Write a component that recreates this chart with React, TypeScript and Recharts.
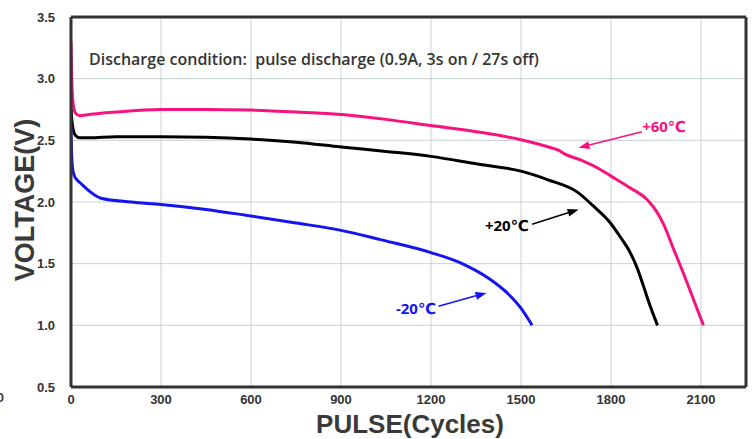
import React from "react";
import {
  LineChart,
  Line,
  XAxis,
  YAxis,
  CartesianGrid,
  ReferenceLine,
  ReferenceDot,
  Customized,
} from "recharts";

document.body.style.margin = "0";

// +60℃ curve
const hotCycles = [0, 3, 8, 15, 30, 60, 150, 300, 450, 600, 750, 900, 1050, 1200, 1350, 1500, 1600, 1625, 1645, 1700, 1760, 1800, 1860, 1920, 1950, 1975, 2010, 2040, 2075, 2108];
const hotVolts = [3.3, 2.95, 2.78, 2.72, 2.7, 2.71, 2.73, 2.75, 2.75, 2.745, 2.73, 2.71, 2.67, 2.62, 2.57, 2.505, 2.44, 2.42, 2.39, 2.34, 2.27, 2.21, 2.12, 2.02, 1.93, 1.82, 1.61, 1.43, 1.21, 1.0];

// +20℃ curve
const roomCycles = [0, 3, 8, 15, 30, 60, 150, 300, 450, 600, 750, 900, 1050, 1200, 1350, 1500, 1590, 1688, 1740, 1798, 1830, 1864, 1888, 1908, 1930, 1955];
const roomVolts = [2.76, 2.66, 2.58, 2.54, 2.52, 2.52, 2.53, 2.53, 2.525, 2.51, 2.485, 2.446, 2.41, 2.37, 2.31, 2.25, 2.18, 2.08, 1.97, 1.83, 1.72, 1.59, 1.46, 1.32, 1.16, 1.0];

// -20℃ curve
const coldCycles = [0, 2, 5, 10, 20, 33, 60, 100, 200, 300, 450, 600, 750, 900, 1031, 1200, 1309, 1398, 1453, 1498, 1537];
const coldVolts = [2.59, 2.4, 2.28, 2.22, 2.18, 2.15, 2.09, 2.03, 2.0, 1.98, 1.94, 1.886, 1.83, 1.77, 1.695, 1.59, 1.495, 1.372, 1.265, 1.145, 1.0];

const xTicks = [0, 300, 600, 900, 1200, 1500, 1800, 2100];
const yTicks = [0.5, 1.0, 1.5, 2.0, 2.5, 3.0, 3.5];

const PINK = "#f7137f";
const BLACK = "#000000";
const BLUE = "#1414f0";
const FRAME = "#333333";

const toRows = (xs: number[], ys: number[]) => xs.map((x, i) => ({ x, v: ys[i] }));

const hotData = toRows(hotCycles, hotVolts);
const roomData = toRows(roomCycles, roomVolts);
const coldData = toRows(coldCycles, coldVolts);

const arrowShape = (color: string) => (p: any) => {
  const { x1, y1, x2, y2 } = p;
  const ang = Math.atan2(y2 - y1, x2 - x1);
  const len = 11;
  const half = 4;
  const bx = x2 - len * Math.cos(ang);
  const by = y2 - len * Math.sin(ang);
  const nx = -Math.sin(ang) * half;
  const ny = Math.cos(ang) * half;
  return (
    <g>
      <line x1={x1} y1={y1} x2={bx} y2={by} stroke={color} strokeWidth={1.5} />
      <polygon points={`${x2},${y2} ${bx + nx},${by + ny} ${bx - nx},${by - ny}`} fill={color} />
    </g>
  );
};

const labelShape = (text: string, color: string) => (p: any) => (
  <text
    x={p.cx}
    y={p.cy}
    textAnchor="middle"
    dominantBaseline="central"
    fill={color}
    fontFamily="'Open Sans', 'DejaVu Sans', sans-serif"
    fontWeight={700}
    fontSize={15}
  >
    {text}
  </text>
);

const conditionShape = (p: any) => (
  <text
    x={p.cx}
    y={p.cy}
    fill="#333"
    fontFamily="'Open Sans', sans-serif"
    fontWeight={600}
    fontSize={16}
    style={{ whiteSpace: "pre" }}
  >
    {"Discharge condition:  pulse discharge (0.9A, 3s on / 27s off)"}
  </text>
);

const AxisTitles = () => (
  <g fill="#3a3a3a" fontFamily="'Liberation Sans', Arial, sans-serif" fontWeight={700}>
    <text x={34} y={200} fontSize={27} textAnchor="middle" transform="rotate(-90, 34, 200)">
      VOLTAGE(V)
    </text>
    <text x={410} y={433} fontSize={26} textAnchor="middle">
      PULSE(Cycles)
    </text>
    <text x={4} y={402} fontSize={13} textAnchor="end">
      0
    </text>
  </g>
);

const tickStyle = {
  fill: "#333",
  fontSize: 13,
  fontWeight: 700,
  fontFamily: "'Liberation Sans', Arial, sans-serif",
};

export default function App() {
  return (
    <div style={{ width: 753, height: 439, background: "#fff" }}>
      <LineChart width={753} height={439} margin={{ top: 17, right: 7, bottom: 0, left: 0 }}>
        <CartesianGrid stroke="#c8d2d2" strokeWidth={1} />
        <XAxis
          type="number"
          dataKey="x"
          domain={[0, 2250]}
          ticks={xTicks}
          height={52}
          tickSize={0}
          tickMargin={8}
          tick={tickStyle}
          axisLine={{ stroke: FRAME, strokeWidth: 3 }}
          allowDataOverflow
        />
        <YAxis
          type="number"
          domain={[0.5, 3.5]}
          ticks={yTicks}
          width={71}
          tickSize={0}
          tickMargin={16}
          tick={tickStyle}
          tickFormatter={(v: number) => v.toFixed(1)}
          axisLine={{ stroke: FRAME, strokeWidth: 3 }}
          allowDataOverflow
        />
        <ReferenceLine y={3.5} stroke={FRAME} strokeWidth={3} />
        <ReferenceLine x={2250} stroke={FRAME} strokeWidth={3} />

        <Line data={hotData} dataKey="v" type="monotone" stroke={PINK} strokeWidth={3} dot={false} isAnimationActive={false} />
        <Line data={roomData} dataKey="v" type="monotone" stroke={BLACK} strokeWidth={3} dot={false} isAnimationActive={false} />
        <Line data={coldData} dataKey="v" type="monotone" stroke={BLUE} strokeWidth={3} dot={false} isAnimationActive={false} />

        <ReferenceLine segment={[{ x: 1903, y: 2.57 }, { x: 1692, y: 2.44 }]} shape={arrowShape(PINK)} />
        <ReferenceLine segment={[{ x: 1537, y: 1.82 }, { x: 1692, y: 1.94 }]} shape={arrowShape(BLACK)} />
        <ReferenceLine segment={[{ x: 1225, y: 1.155 }, { x: 1385, y: 1.263 }]} shape={arrowShape(BLUE)} />

        <ReferenceDot x={1977} y={2.616} r={0} shape={labelShape("+60℃", PINK)} />
        <ReferenceDot x={1453} y={1.813} r={0} shape={labelShape("+20℃", BLACK)} />
        <ReferenceDot x={1150} y={1.14} r={0} shape={labelShape("-20℃", BLUE)} />
        <ReferenceDot x={60} y={3.11} r={0} shape={conditionShape} />

        <Customized component={AxisTitles} />
      </LineChart>
    </div>
  );
}
